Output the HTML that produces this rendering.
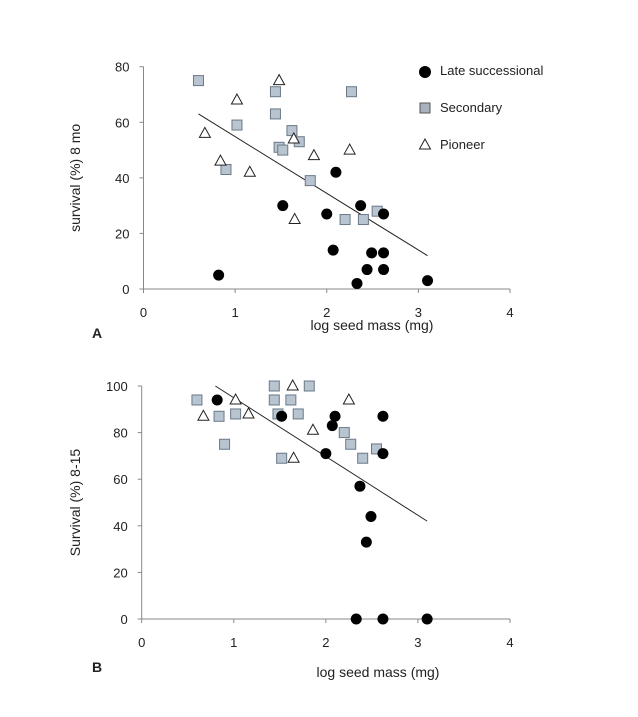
<!DOCTYPE html>
<html><head><meta charset="utf-8"><style>
body{margin:0;background:#fff;}
svg text{font-family:"Liberation Sans",sans-serif;fill:#222;}
</style></head><body>
<svg id="c" width="638" height="712" xmlns="http://www.w3.org/2000/svg"></svg>
<script>
const xTicks=[0,1,2,3,4];
const yTicksA=[0,20,40,60,80];
const yTicksB=[0,20,40,60,80,100];
const lateAx=[0.82,1.52,2.0,2.07,2.1,2.33,2.37,2.44,2.49,2.62,2.62,2.62,3.1];
const lateAy=[5,30,27,14,42,2,30,7,13,27,13,7,3];
const secAx=[0.6,0.9,1.02,1.44,1.44,1.48,1.52,1.62,1.7,1.82,2.2,2.27,2.4,2.55];
const secAy=[75,43,59,71,63,51,50,57,53,39,25,71,25,28];
const pioAx=[0.67,0.84,1.02,1.16,1.48,1.64,1.65,1.86,2.25];
const pioAy=[56,46,68,42,75,54,25,48,50];
const trendAx=[0.6,3.1];
const trendAy=[63,12];
const lateBx=[0.82,1.52,2.0,2.07,2.1,2.37,2.44,2.49,2.33,2.62,2.62,2.62,3.1];
const lateBy=[94,87,71,83,87,57,33,44,0,87,71,0,0];
const secBx=[0.6,0.84,0.9,1.02,1.44,1.44,1.48,1.52,1.62,1.7,1.82,2.2,2.27,2.4,2.55];
const secBy=[94,87,75,88,100,94,88,69,94,88,100,80,75,69,73];
const pioBx=[0.67,1.02,1.16,1.64,1.65,1.86,2.25];
const pioBy=[87,94,88,100,69,81,94];
const trendBx=[0.8,3.1];
const trendBy=[100,42];

const svg=document.getElementById('c');
const NS='http://www.w3.org/2000/svg';
function mk(tag,attrs,parent){const e=document.createElementNS(NS,tag);for(const k in attrs)e.setAttribute(k,attrs[k]);(parent||svg).appendChild(e);return e;}

function panel(p,o){
  const g=mk('g',{});
  
  
  const sx=v=>o.x0+(o.x1-o.x0)*v/4;
  const sy=v=>o.y0-(o.y0-o.yTop)*v/o.ymax;
  const ax=mk('line',{x1:o.x0,y1:o.y0,x2:o.x1,y2:o.y0,stroke:'#888','stroke-width':1},g);
  
  
  const ay=mk('line',{x1:o.x0,y1:o.y0,x2:o.x0,y2:o.yTop,stroke:'#888','stroke-width':1},g);
  
  
  xTicks.forEach(t=>{
    mk('line',{x1:sx(t),y1:o.y0,x2:sx(t),y2:o.y0+4,stroke:'#888'},g);
    const tx=mk('text',{x:sx(t),y:o.y0+28,'text-anchor':'middle','font-size':13},g);
    tx.textContent=t;
    
    
  });
  o.yTicks.forEach(t=>{
    mk('line',{x1:o.x0-4,y1:sy(t),x2:o.x0,y2:sy(t),stroke:'#888'},g);
    const tx=mk('text',{x:o.x0-14,y:sy(t)+5,'text-anchor':'end','font-size':13},g);
    tx.textContent=t;
    
    
  });
  const yl=mk('text',{x:0,y:0,'text-anchor':'middle','font-size':14,transform:`translate(${o.ylx},${(o.y0+o.yTop)/2}) rotate(-90)`},g);
  yl.textContent=o.ylabel;
  
  
  const xl=mk('text',{x:o.xlx,y:o.xly,'text-anchor':'middle','font-size':14},g);
  xl.textContent='log seed mass (mg)';
  
  
  const pl=mk('text',{x:92,y:o.ply,'font-size':14,'font-weight':'bold'},g);
  pl.textContent=p.toUpperCase();
  
  
  const tl=mk('line',{x1:sx(o.tx[0]),y1:sy(o.ty[0]),x2:sx(o.tx[1]),y2:sy(o.ty[1]),stroke:'#222','stroke-width':1},g);
  
  
  o.sx.forEach((v,i)=>{const e=mk('rect',{x:sx(v)-5,y:sy(o.sy[i])-5,width:10,height:10,fill:'#b8c4d0',stroke:'#6a7888','stroke-width':1},g);
    
    });
  o.px.forEach((v,i)=>{const X=sx(v),Y=sy(o.py[i]);const e=mk('polygon',{points:`${X},${Y-6} ${X-5.5},${Y+4} ${X+5.5},${Y+4}`,fill:'#fff',stroke:'#222','stroke-width':1},g);
    
    });
  o.lx.forEach((v,i)=>{const e=mk('circle',{cx:sx(v),cy:sy(o.ly[i]),r:5.5,fill:'#000'},g);
    
    });
}
panel('a',{x0:143.5,x1:510,y0:289,yTop:66.7,ymax:80,yTicks:yTicksA,ylabel:'survival (%) 8 mo',ylx:80,xlx:372,xly:330,ply:338,
  tx:trendAx,ty:trendAy,sx:secAx,sy:secAy,px:pioAx,py:pioAy,lx:lateAx,ly:lateAy});
panel('b',{x0:141.7,x1:510,y0:619,yTop:386,ymax:100,yTicks:yTicksB,ylabel:'Survival (%) 8-15',ylx:80,xlx:378,xly:677,ply:672,
  tx:trendBx,ty:trendBy,sx:secBx,sy:secBy,px:pioBx,py:pioBy,lx:lateBx,ly:lateBy});

const lg=mk('g',{});


const c=mk('circle',{cx:425,cy:72,r:6,fill:'#000'},lg);


const r=mk('rect',{x:420,y:103,width:10,height:10,fill:'#a8b2be',stroke:'#555'},lg);


const t=mk('polygon',{points:'425,139 419.5,149 430.5,149',fill:'#fff',stroke:'#222'},lg);


[['Late successional',75],['Secondary',112],['Pioneer',149]].forEach(([s,y])=>{
  const e=mk('text',{x:440,y:y,'font-size':13},lg);e.textContent=s;
  
  
});
</script>
</body></html>
